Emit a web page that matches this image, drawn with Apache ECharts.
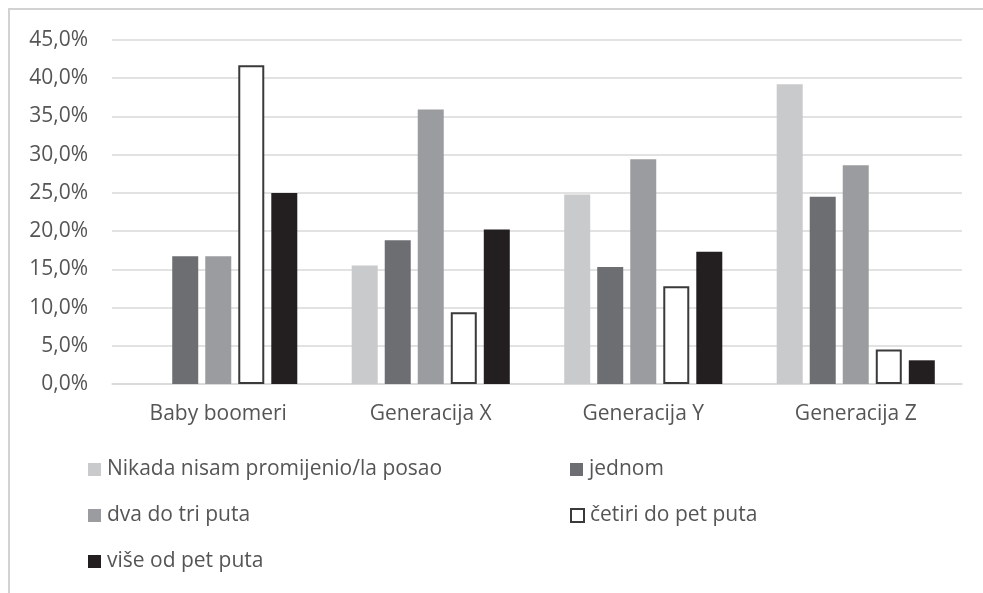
<!DOCTYPE html>
<html>
<head>
<meta charset="utf-8">
<script src="https://cdn.jsdelivr.net/npm/echarts@6/dist/echarts.min.js"></script>
<style>
  html, body { margin: 0; padding: 0; background: #fff; }
  #chart { width: 983px; height: 593px; }
</style>
</head>
<body>
<div id="chart"></div>
<script>
// Generations on the x axis
const categories = ['Baby boomeri', 'Generacija X', 'Generacija Y', 'Generacija Z'];

// Share of respondents (%) by how often they changed jobs
const nikada = [0, 15.5, 24.8, 39.2];
const jednom = [16.7, 18.8, 15.3, 24.5];
const dvaDoTri = [16.7, 35.9, 29.4, 28.6];
const cetiriDoPet = [41.7, 9.4, 12.8, 4.5];
const viseOdPet = [25.0, 20.2, 17.3, 3.1];

const seriesNames = [
  'Nikada nisam promijenio/la posao',
  'jednom',
  'dva do tri puta',
  'četiri do pet puta',
  'više od pet puta'
];

const yTicks = { min: 0, max: 45, interval: 5 };

const FONT = 'Open Sans';
const TEXT = '#555555';

const styles = [
  { color: '#c9cacc' },
  { color: '#6d6e71' },
  { color: '#9b9c9f' },
  { color: '#ffffff', borderColor: '#3a3a3a', borderWidth: 2 },
  { color: '#231f20' }
];
const values = [nikada, jednom, dvaDoTri, cetiriDoPet, viseOdPet];

// One legend per entry so the entries sit in a two-column layout
const legendPos = [
  { left: 88, top: 459 },
  { left: 570, top: 459 },
  { left: 88, top: 505 },
  { left: 570, top: 505 },
  { left: 88, top: 551 }
];

const chart = echarts.init(document.getElementById('chart'), null, { renderer: 'canvas' });

chart.setOption({
  animation: false,
  backgroundColor: '#ffffff',
  textStyle: { fontFamily: FONT },
  graphic: [{
    type: 'rect',
    shape: { x: 9, y: 9, width: 1000, height: 600 },
    style: { fill: 'none', stroke: '#d2d2d2', lineWidth: 2 },
    silent: true
  }],
  grid: { left: 112, right: 21, top: 40, bottom: 209 },
  legend: legendPos.map((p, i) => ({
    data: [seriesNames[i]],
    left: p.left,
    top: p.top,
    icon: 'rect',
    itemWidth: 13,
    itemHeight: 13,
    itemGap: 0,
    padding: 0,
    selectedMode: false,
    textStyle: { fontFamily: FONT, fontSize: 21, color: TEXT, padding: [0, 0, 0, 1] }
  })),
  xAxis: {
    type: 'category',
    data: categories,
    axisLine: { lineStyle: { color: '#d9d9d9', width: 1.5 } },
    axisTick: { show: false },
    axisLabel: { fontFamily: FONT, fontSize: 21, color: TEXT, margin: 20 }
  },
  yAxis: {
    type: 'value',
    min: yTicks.min,
    max: yTicks.max,
    interval: yTicks.interval,
    axisLine: { show: false },
    axisTick: { show: false },
    splitLine: { lineStyle: { color: '#d9d9d9', width: 1.5 } },
    axisLabel: {
      fontFamily: FONT, fontSize: 21, color: TEXT, margin: 24,
      formatter: v => v.toFixed(1).replace('.', ',') + '%'
    }
  },
  series: seriesNames.map((name, i) => ({
    name: name,
    type: 'bar',
    data: values[i],
    barWidth: 26,
    barGap: '27%',
    itemStyle: styles[i]
  }))
});
</script>
</body>
</html>
